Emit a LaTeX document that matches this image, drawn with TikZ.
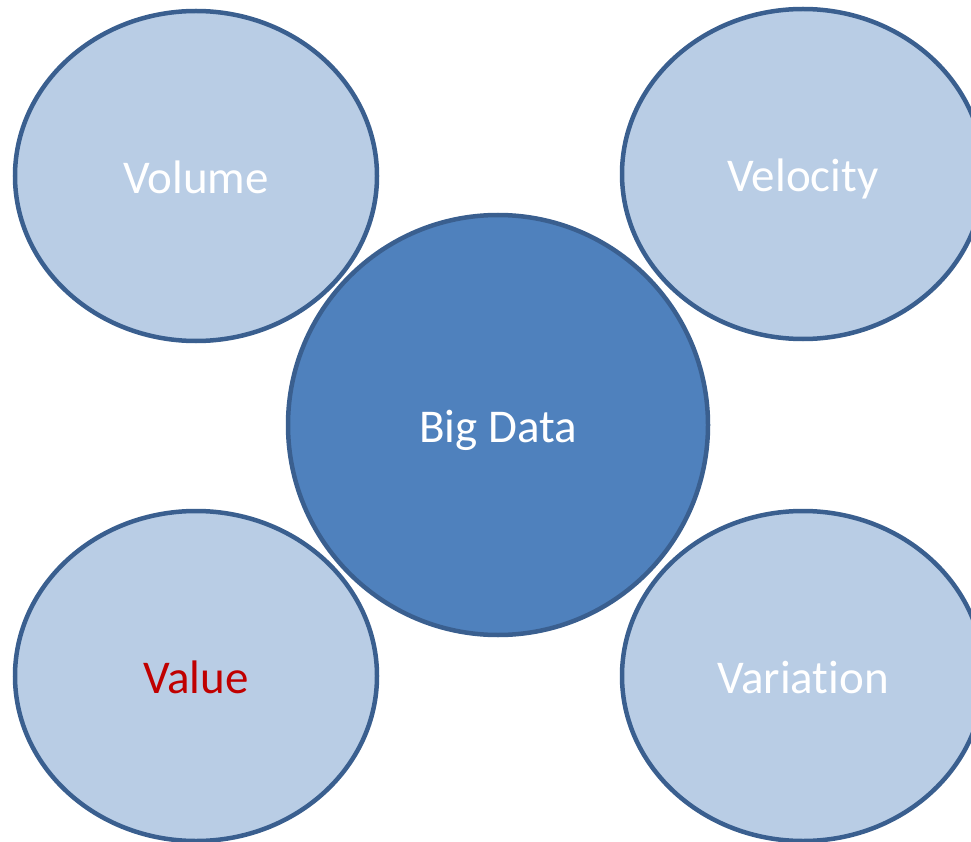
\documentclass[tikz,border=0pt]{standalone}
\usepackage{fontspec}
\setmainfont{Carlito}[Ligatures=NoCommon]
\usetikzlibrary{shapes.geometric}
\definecolor{vlight}{HTML}{B9CDE5}
\definecolor{vdark}{HTML}{4F81BD}
\definecolor{vline}{HTML}{3A5F8F}
\definecolor{vred}{HTML}{C00000}
\begin{document}
\begin{tikzpicture}[x=1pt,y=-1pt,
        vee/.style={ellipse,draw=vline,line width=4.5pt,fill=vlight,text=white,
            minimum width=362pt,minimum height=330pt,inner sep=0pt,
            text height=42pt,text depth=7pt,
            font=\fontsize{47}{56}\selectfont},
        core/.style={vee,fill=vdark,minimum width=420pt,minimum height=420pt}]
            \useasboundingbox (0,0) rectangle (971,842);
            \clip (0,0) rectangle (971,842);
            \node[vee] (volume) at (196,176) {Volume};
            \node[vee] (velocity) at (803,174) {Velocity};
            \node[vee,text=vred] (value) at (196,676) {Value};
            \node[vee] (variation) at (803,676) {Variation};
            \node[core] (bigdata) at (498,425) {Big Data};
        \end{tikzpicture}
\end{document}
